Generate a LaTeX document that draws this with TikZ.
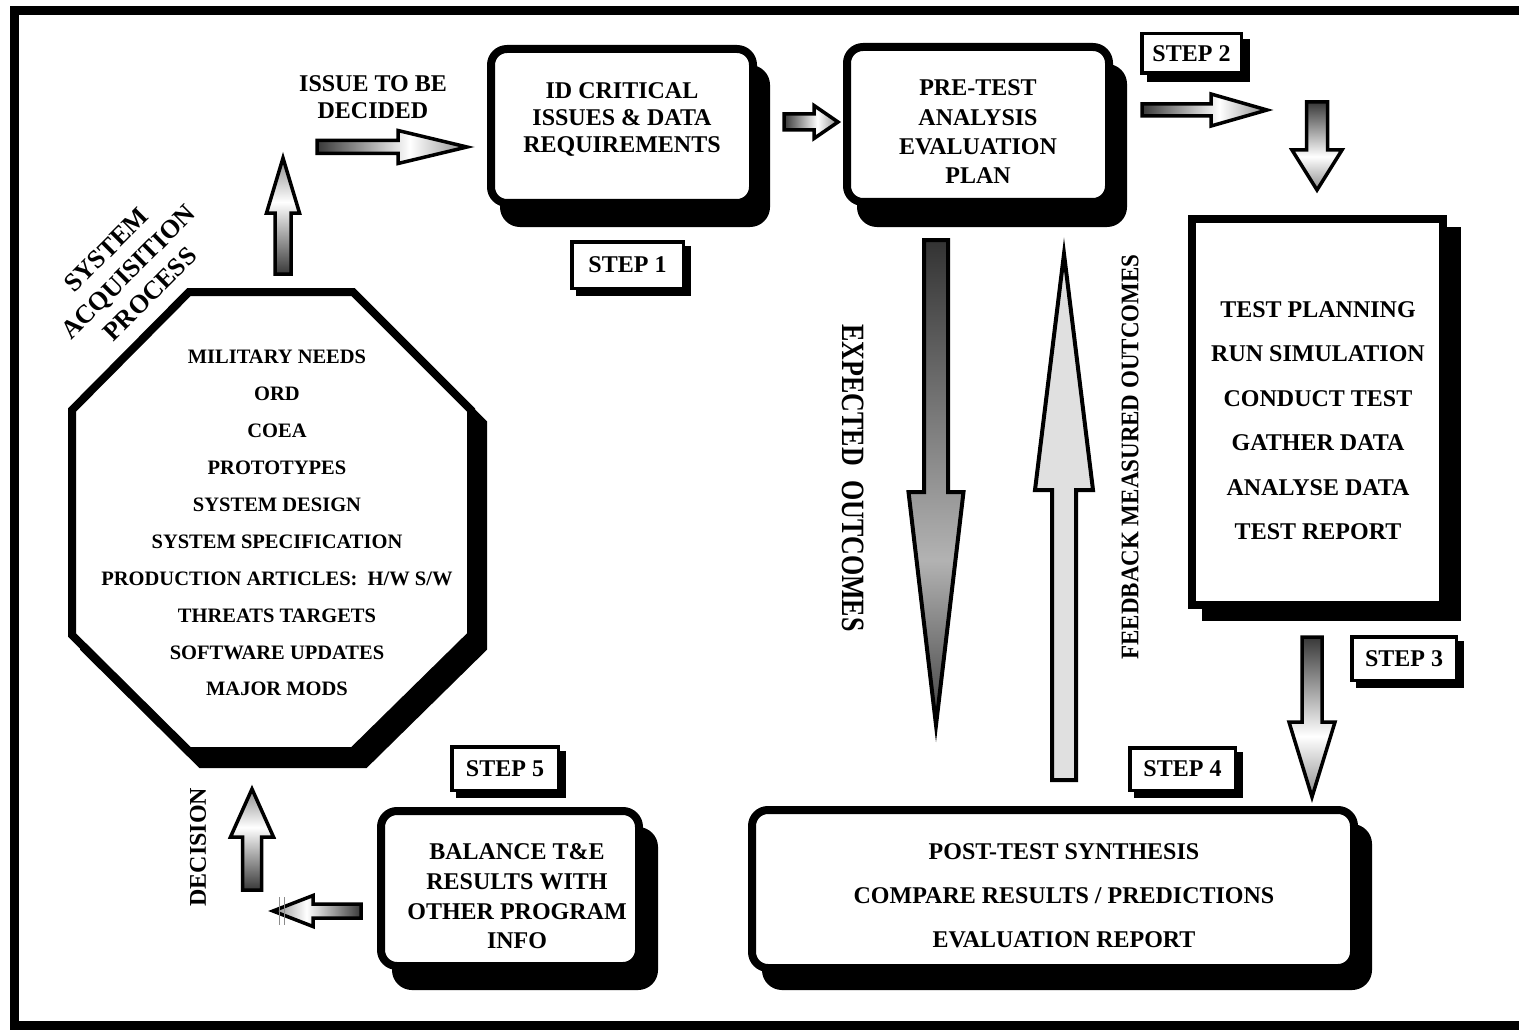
\documentclass[tikz,border=0pt]{standalone}
\usepackage{fontspec}
\setmainfont{Liberation Serif}
\usetikzlibrary{calc}
\pgfdeclarehorizontalshading{arrsh}{100bp}{color(0bp)=(black!78); color(25bp)=(black!78); color(56bp)=(white); color(75bp)=(black!45); color(100bp)=(black!45)}
\pgfdeclarehorizontalshading{expsh}{100bp}{color(0bp)=(black!80); color(25bp)=(black!80); color(58bp)=(black!30); color(75bp)=(black!75); color(100bp)=(black!75)}
% horizontal block arrow: options, tail, tip, shaft half, head half, head-base offset from tip (signed)
\newcommand\blockH[6]{\path[#1] ($(#2)+(0,-#4)$) -- ($(#3)+(#6,-#4)$) -- ($(#3)+(#6,-#5)$) -- (#3) -- ($(#3)+(#6,#5)$) -- ($(#3)+(#6,#4)$) -- ($(#2)+(0,#4)$) -- cycle;}
\newcommand\blockV[6]{\path[#1] ($(#2)+(-#4,0)$) -- ($(#3)+(-#4,#6)$) -- ($(#3)+(-#5,#6)$) -- (#3) -- ($(#3)+(#5,#6)$) -- ($(#3)+(#4,#6)$) -- ($(#2)+(#4,0)$) -- cycle;}
\begin{document}
\begin{tikzpicture}[x=1pt,y=-1pt,
  txt/.style={inner sep=0pt, outer sep=0pt, text depth=0pt, align=center},
  f24/.style={txt, font=\fontsize{24}{28}\selectfont\bfseries, text height=15.9pt},
  f20/.style={txt, font=\fontsize{20.5}{24}\selectfont\bfseries, text height=13.6pt},
  rbox/.style={draw, line width=8pt, rounded corners=16pt, fill=white, inner sep=0pt, outer sep=0pt},
  rshadow/.style={rbox, fill=black},
  sqbox/.style={draw, line width=8pt, fill=white, inner sep=0pt, outer sep=0pt},
  sqshadow/.style={sqbox, fill=black},
  stepbox/.style={draw, line width=3.5pt, fill=white, inner sep=0pt, outer sep=0pt, font=\fontsize{24}{28}\selectfont\bfseries, text height=15.9pt, text depth=0pt},
  stepshadow/.style={stepbox, fill=black, text=black},
  barrow/.style={draw=black, line width=3.5pt, line join=miter, miter limit=12, shading=arrsh},
  arrR/.style={barrow, shading angle=0},
  arrL/.style={barrow, shading angle=180},
  arrU/.style={barrow, shading angle=90},
  arrD/.style={barrow, shading angle=-90},
  bigarrow/.style={draw=black, line width=4pt, line join=miter, miter limit=14},
  octline/.style={line width=8pt, line join=miter, draw=black}
]
\useasboundingbox (0,0) rectangle (1519,1030);
\clip (0,0) rectangle (1519,1030);
\fill[white] (0,0) rectangle (1519,1030);
% outer frame
\draw[line width=9pt] (1530,10.5) -- (14.5,10.5) -- (14.5,1025.5) -- (1530,1025.5);

% ---------- octagon (system acquisition process)
\path[octline, fill=black, shift={(12,13)}] (189,292) -- (353,292) -- (471,410) -- (471,635) -- (353,751) -- (189,751) -- (72,635) -- (72,410) -- cycle;
\path[octline, fill=white] (189,292) -- (353,292) -- (471,410) -- (471,635) -- (353,751) -- (189,751) -- (72,635) -- (72,410) -- cycle;
\foreach \t [count=\i from 0] in {MILITARY NEEDS, ORD, COEA, PROTOTYPES, SYSTEM DESIGN, SYSTEM SPECIFICATION, PRODUCTION ARTICLES:\ \ H/W S/W, THREATS TARGETS, SOFTWARE UPDATES, MAJOR MODS}
  \node[f20] (oct\i) at (277, 357+36.9*\i) {\t};

\node[txt, font=\fontsize{26}{31}\selectfont\bfseries, rotate=45] (sap) at (128,272) {SYSTEM\\ACQUISITION\\PROCESS};

% ---------- box 1
\node[rshadow, minimum width=262pt, minimum height=154pt, xshift=13pt, yshift=-20pt] (idsh) at (622,126) {};
\node[rbox, minimum width=262pt, minimum height=154pt] (idbox) at (622,126) {};
\foreach \t [count=\i from 0] in {ID CRITICAL, ISSUES \& DATA, REQUIREMENTS}
  \node[f24] (idt\i) at (622, 91+27*\i) {\t};

% ---------- box 2
\node[rshadow, minimum width=262pt, minimum height=155pt, xshift=14pt, yshift=-21pt] (presh) at (978,124.5) {};
\node[rbox, minimum width=262pt, minimum height=155pt] (prebox) at (978,124.5) {};
\foreach \t [count=\i from 0] in {PRE-TEST, ANALYSIS, EVALUATION, PLAN}
  \node[f24] (pret\i) at (978, 88+29.3*\i) {\t};

% ---------- test box
\node[sqshadow, minimum width=251pt, minimum height=386pt, xshift=14pt, yshift=-12pt] (testsh) at (1317.5,412) {};
\node[sqbox, minimum width=251pt, minimum height=386pt] (testbox) at (1317.5,412) {};
\foreach \t [count=\i from 0] in {TEST PLANNING, RUN SIMULATION, CONDUCT TEST, GATHER DATA, ANALYSE DATA, TEST REPORT}
  \node[f24] (testt\i) at (1318, 309.5+44.4*\i) {\t};

% ---------- post-test box
\node[rshadow, minimum width=602pt, minimum height=158pt, xshift=14pt, yshift=-18pt] (postsh) at (1053,889) {};
\node[rbox, minimum width=602pt, minimum height=158pt] (postbox) at (1053,889) {};
\foreach \t [count=\i from 0] in {POST-TEST SYNTHESIS, COMPARE RESULTS / PREDICTIONS, EVALUATION REPORT}
  \node[f24] (postt\i) at (1064, 852+44*\i) {\t};

% ---------- balance box
\node[rshadow, minimum width=258pt, minimum height=155pt, xshift=15pt, yshift=-20pt] (balsh) at (510,888.5) {};
\node[rbox, minimum width=258pt, minimum height=155pt] (balbox) at (510,888.5) {};
\foreach \t [count=\i from 0] in {BALANCE T\&E, RESULTS WITH, OTHER PROGRAM, INFO}
  \node[f24] (balt\i) at (517, 851.7+29.7*\i) {\t};

% ---------- step labels
\node[stepshadow, minimum width=111.5pt, minimum height=46.5pt, xshift=6pt, yshift=-6pt] (s1sh) at (627.5,265) {};
\node[stepbox, minimum width=111.5pt, minimum height=46.5pt] (s1) at (627.5,265) {STEP 1};
\node[stepshadow, minimum width=99.5pt, minimum height=39.5pt, xshift=7pt, yshift=-7pt] (s2sh) at (1191.5,53.5) {};
\node[stepbox, minimum width=99.5pt, minimum height=39.5pt] (s2) at (1191.5,53.5) {STEP 2};
\node[stepshadow, minimum width=104.5pt, minimum height=43.5pt, xshift=6pt, yshift=-6pt] (s3sh) at (1404,658.5) {};
\node[stepbox, minimum width=104.5pt, minimum height=43.5pt] (s3) at (1404,658.5) {STEP 3};
\node[stepshadow, minimum width=105.5pt, minimum height=42.5pt, xshift=6pt, yshift=-6pt] (s4sh) at (1182.5,769) {};
\node[stepbox, minimum width=105.5pt, minimum height=42.5pt] (s4) at (1182.5,769) {STEP 4};
\node[stepshadow, minimum width=106.5pt, minimum height=43.5pt, xshift=6pt, yshift=-6pt] (s5sh) at (505,768.5) {};
\node[stepbox, minimum width=106.5pt, minimum height=43.5pt] (s5) at (505,768.5) {STEP 5};

% ---------- free labels
\node[f24] (issue1) at (373,83.5) {ISSUE TO BE};
\node[f24] (issue2) at (373,110.8) {DECIDED};
\node[f24, rotate=90] (decision) at (198,847) {DECISION};
\node[txt, font=\fontsize{26}{28}\selectfont\bfseries, text height=21.5pt, rotate=-90] (expected) at (853,478) {\scalebox{1}[1.25]{EXPECTED\hspace{0.55em}OUTCOMES}};
\node[txt, font=\fontsize{23}{28}\selectfont\bfseries, text height=16.7pt, rotate=90] (feedback) at (1130,457) {\scalebox{1}[1.1]{FEEDBACK MEASURED OUTCOMES}};

% ---------- block arrows
\coordinate (aT) at (317,147);   \coordinate (aP) at (467,147);
\blockH{arrR}{aT}{aP}{6.5}{16.5}{-69}
\coordinate (bT) at (283,274);   \coordinate (bP) at (283,158);
\blockV{arrU}{bT}{bP}{8}{16.5}{55}
\coordinate (cT) at (784,122);   \coordinate (cP) at (838,122);
\blockH{arrR}{cT}{cP}{8}{16.5}{-24}
\coordinate (dT) at (1142,110);  \coordinate (dP) at (1267,110);
\blockH{arrR}{dT}{dP}{6}{16}{-56}
\coordinate (eT) at (1317,102);  \coordinate (eP) at (1317,190);
\blockV{arrD}{eT}{eP}{10.5}{25}{-40}
\coordinate (fT) at (1312,637);  \coordinate (fP) at (1312,797);
\blockV{arrD}{fT}{fP}{10}{23}{-75}
\coordinate (gT) at (252,890);   \coordinate (gP) at (252,789);
\blockV{arrU}{gT}{gP}{9.5}{21.5}{48}
\coordinate (hT) at (361,911);   \coordinate (hP) at (273,911);
\blockH{arrL}{hT}{hP}{7}{15.5}{40}
\draw[black!45, line width=0.7pt] (279,897) -- (279,925) (284,897) -- (284,925);
% big arrows
\coordinate (xT) at (936,240);   \coordinate (xP) at (936,725);
\blockV{bigarrow, shading=expsh, shading angle=-90}{xT}{xP}{12}{27.5}{-233}
\coordinate (yT) at (1064,780);  \coordinate (yP) at (1064,254);
\blockV{bigarrow, fill=black!12}{yT}{yP}{12}{29}{236}
\end{tikzpicture}
\end{document}
